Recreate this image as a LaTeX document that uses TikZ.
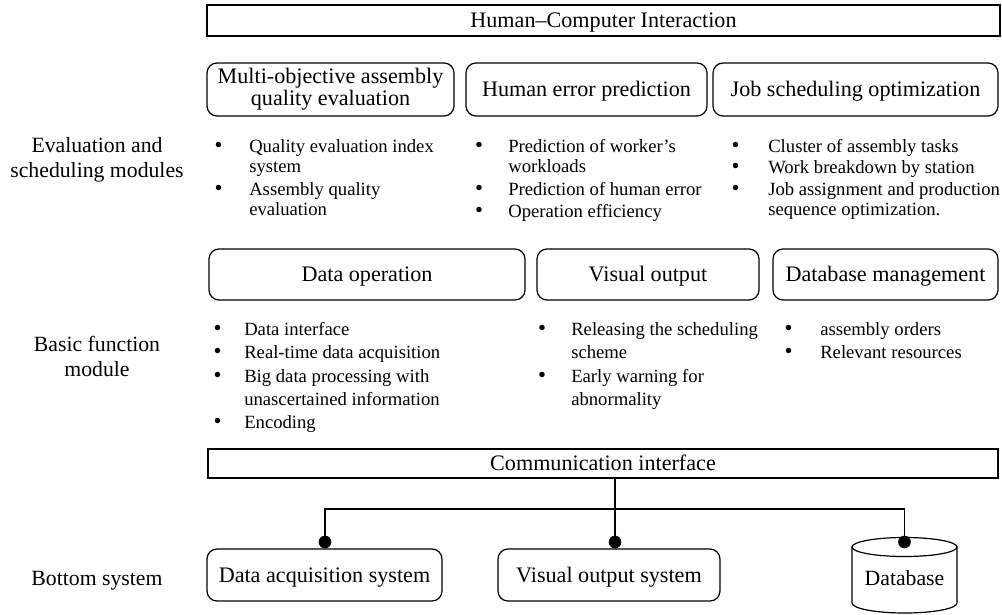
\documentclass[tikz,border=0pt]{standalone}
\usepackage{fontspec}
\setmainfont{Liberation Serif}
\newcommand{\mlt}[1]{\begin{tabular}[t]{@{}l@{}}#1\end{tabular}}
\newcommand{\bul}[1]{\llap{{\fontsize{17}{17}\selectfont\textbullet}\hspace{#1}}}
\tikzset{
  hdr/.style={draw, line width=0.9pt, rounded corners=7.5pt, align=center, inner sep=0pt,
              font=\fontsize{16.6}{16.5}\selectfont},
  one/.style={text height=10.8pt, text depth=0pt},
  sbox/.style={draw, line width=0.9pt, inner sep=0pt, font=\fontsize{16.6}{17}\selectfont, one},
  item/.style={anchor=base west, inner sep=0pt, font=\fontsize{14}{15.5}\selectfont},
  itemb/.style={anchor=base west, inner sep=0pt, font=\fontsize{14}{17.25}\selectfont},
  side/.style={align=center, inner sep=0pt, font=\fontsize{16.3}{18.75}\selectfont},
  dot/.style={circle, fill=black, inner sep=0pt, minimum size=9.5pt},
  wire/.style={line width=0.9pt}
}
\begin{document}
\begin{tikzpicture}[x=0.75pt,y=-0.75pt]
\useasboundingbox (0,0) rectangle (1002,614);
% top
\node[sbox, minimum width=594.75pt, minimum height=23.25pt] (hci) at (603.5,20.5) {Human–Computer Interaction};
% side labels
\node[side] (l1) at (97,160) {Evaluation and\\scheduling modules};
\node[side] (l2) at (97,356) {Basic function\\module};
\node[side, one] (l3) at (97,578) {Bottom system};
% row 1 headers
\node[hdr, minimum width=185.25pt, minimum height=39.75pt] (mo) at (330.5,89.5) {Multi-objective assembly\\quality evaluation};
\node[hdr, one, minimum width=180.75pt, minimum height=39.75pt] (he) at (586.5,89.5) {Human error prediction};
\node[hdr, one, minimum width=213.75pt, minimum height=39.75pt] (js) at (855.5,89.5) {Job scheduling optimization};
% row 1 items
\node[item] (mo1) at (249,152) {\bul{20pt}\mlt{Quality evaluation index\\system}};
\node[item] (mo2) at (249,195) {\bul{20pt}\mlt{Assembly quality\\evaluation}};
\node[item] (he1) at (508,152) {\bul{19pt}\mlt{Prediction of worker{\char"27}s\\workloads}};
\node[item] (he2) at (508,195) {\bul{19pt}\mlt{Prediction of human error}};
\node[item] (he3) at (508,217) {\bul{19pt}\mlt{Operation efficiency}};
\node[item] (js1) at (768,152) {\bul{21.5pt}\mlt{Cluster of assembly tasks}};
\node[item] (js2) at (768,173) {\bul{21.5pt}\mlt{Work breakdown by station}};
\node[item] (js3) at (768,195) {\bul{21.5pt}\mlt{Job assignment and production\\sequence optimization.}};
% row 2 headers
\node[hdr, one, minimum width=237pt, minimum height=38.25pt] (dop) at (367,274.5) {Data operation};
\node[hdr, one, minimum width=166.5pt, minimum height=38.25pt] (vo) at (648,274.5) {Visual output};
\node[hdr, one, minimum width=168.75pt, minimum height=38.25pt] (dbm) at (885.5,274.5) {Database management};
% row 2 items
\node[itemb] (do1) at (244,335.5) {\bul{17pt}\mlt{Data interface}};
\node[itemb] (do2) at (244,358.5) {\bul{17pt}\mlt{Real-time data acquisition}};
\node[itemb] (do3) at (244,382.5) {\bul{17pt}\mlt{Big data processing with\\unascertained information}};
\node[itemb] (do4) at (244,428.5) {\bul{17pt}\mlt{Encoding}};
\node[itemb] (vo1) at (571,335.5) {\bul{19pt}\mlt{Releasing the scheduling\\scheme}};
\node[itemb] (vo2) at (571,382.5) {\bul{19pt}\mlt{Early warning for\\abnormality}};
\node[itemb] (db1) at (820,335.5) {\bul{20.75pt}\mlt{assembly orders}};
\node[itemb] (db2) at (820,358.5) {\bul{20.75pt}\mlt{Relevant resources}};
% communication interface
\node[sbox, minimum width=592.5pt, minimum height=21.75pt] (comm) at (603,463.5) {Communication interface};
% bottom systems
\node[hdr, one, minimum width=176.25pt, minimum height=39pt] (daq) at (324.5,575) {Data acquisition system};
\node[hdr, one, minimum width=166.5pt, minimum height=39pt] (vos) at (609,575) {Visual output system};
% database cylinder
\draw[wire, fill=white] (852,547) -- (852,603) arc[start angle=180, end angle=360, x radius=39.375pt, y radius=7.5pt] -- (957,547);
\draw[wire, fill=white] (904.5,547) ellipse[x radius=39.375pt, y radius=7.125pt];
\node[inner sep=0pt, one, font=\fontsize{16.3}{17}\selectfont] (db) at (904.5,578) {Database};
% bus
\coordinate (j) at (615,509);
\node[dot] (p1) at (325,542) {};
\node[dot] (p2) at (615,542) {};
\node[dot] (p3) at (904.5,542) {};
\draw[wire] (comm.south -| j) -- (p2.center);
\draw[wire] (p1.center) |- (j) -| (p3.center);
\end{tikzpicture}
\end{document}
